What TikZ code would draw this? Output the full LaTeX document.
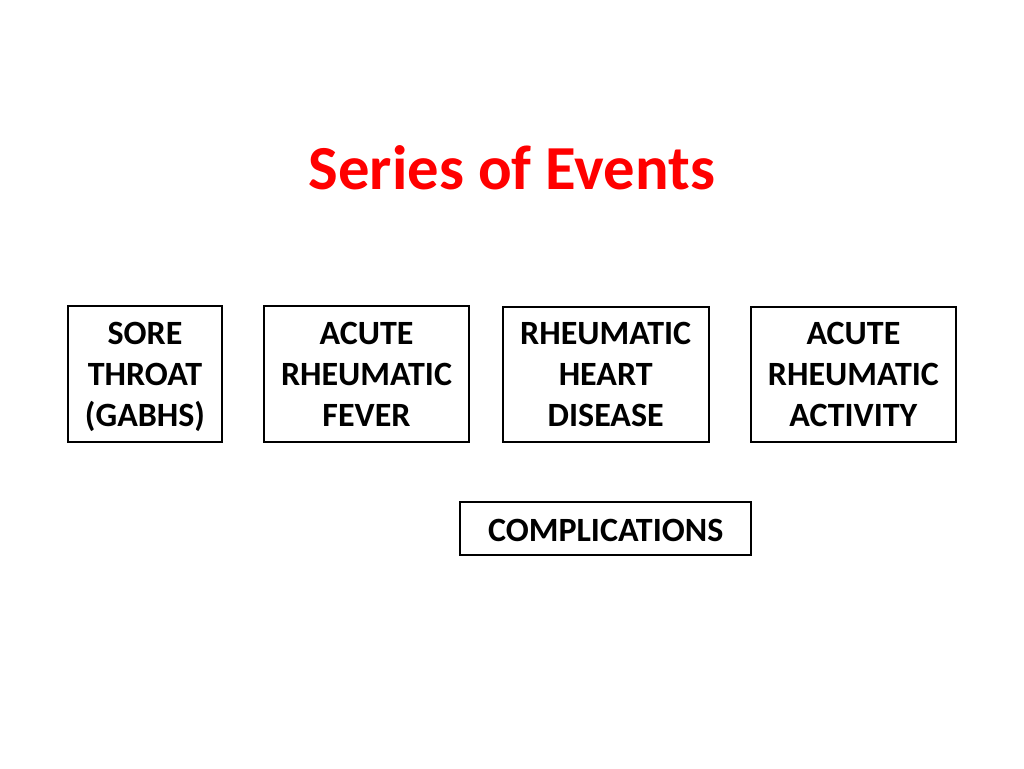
\documentclass[tikz,border=0pt]{standalone}
\usepackage{fontspec}
\setmainfont{Carlito}
\newcommand{\tstr}{\rule{0pt}{26pt}}
\begin{document}
\begin{tikzpicture}[x=0.75pt,y=-0.75pt,
  evbox/.style={draw=black,line width=1.5pt,fill=white,inner sep=0pt,align=center,
    font=\fontsize{25.5pt}{30.75pt}\selectfont\bfseries}]
\useasboundingbox (0,0) rectangle (1024,768);
\node[text=red,font=\fontsize{47pt}{56pt}\selectfont\bfseries] (title) at (512,168) {Series of Events};
\node[evbox,minimum width=154*0.75pt,minimum height=136*0.75pt] (b1) at (145,374) {\tstr SORE\\THROAT\\(GABHS)\strut};
\node[evbox,minimum width=205*0.75pt,minimum height=136*0.75pt] (b2) at (366.5,374) {\tstr ACUTE\\RHEUMATIC\\FEVER\strut};
\node[evbox,minimum width=206*0.75pt,minimum height=135*0.75pt] (b3) at (605.7,374) {\tstr RHEUMATIC\\HEART\\DISEASE\strut};
\node[evbox,minimum width=205*0.75pt,minimum height=135*0.75pt] (b4) at (853.4,374) {\tstr ACUTE\\RHEUMATIC\\ACTIVITY\strut};
\node[evbox,minimum width=291*0.75pt,minimum height=53*0.75pt] (comp) at (605.7,528.7) {\rule{0pt}{19.5pt}COMPLICATIONS};
\end{tikzpicture}
\end{document}
